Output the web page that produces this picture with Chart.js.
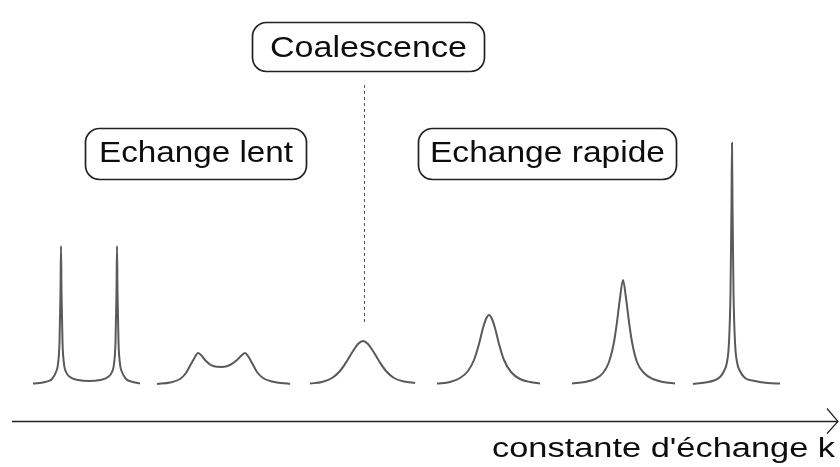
<!DOCTYPE html>
<html>
<head>
<meta charset="utf-8">
<script src="https://cdn.jsdelivr.net/npm/chart.js@4"></script>
<style>
  html, body { margin: 0; padding: 0; background: #fff; }
  .chart-box { width: 840px; height: 467px; }
</style>
</head>
<body>
<div class="chart-box"><canvas id="spectra"></canvas></div>
<script>
// Spectra: position along the axis (x) and signal intensity (y, 0 = baseline)
const slowX = [33, 45, 52, 56, 58, 59.5, 60.5, 61, 61.5, 62.5, 64, 66, 70, 78, 89, 100, 108, 112, 114, 115.5, 116.5, 117, 117.5, 118.5, 120, 122, 126, 133, 140];
const slowY = [0.5, 2, 5, 12, 20, 42, 92, 138, 92, 42, 20, 12, 7, 4, 3, 4, 7, 12, 20, 42, 92, 138, 92, 42, 20, 12, 5, 2, 0.5];

const broadX = [157, 170, 180, 186, 191, 195, 198, 201, 206, 213, 222, 230, 237, 242, 245, 248, 252, 257, 263, 272, 290];
const broadY = [0, 1.5, 5, 11, 20, 27, 31, 29, 23, 18, 17, 19, 24, 29, 31, 28, 21, 12, 6, 2.5, 0];

const coalX = [310, 322, 332, 340, 347, 353, 358, 363, 368, 373, 379, 386, 394, 404, 415];
const coalY = [0.5, 2, 6, 13, 23, 33, 40, 43, 40, 33, 23, 13, 6, 2.5, 1];

const fast1X = [437, 450, 460, 468, 474, 479, 483, 486, 489, 492, 495, 499, 504, 511, 520, 530, 540];
const fast1Y = [0.5, 2, 6, 13, 24, 40, 56, 65, 69, 65, 56, 40, 24, 12, 5, 2, 0.5];

const fast2X = [572, 585, 595, 603, 609, 614, 617, 620, 623, 626, 629, 632, 637, 644, 653, 663, 675];
const fast2Y = [0.5, 2, 5, 11, 22, 42, 62, 86, 104, 86, 62, 42, 22, 11, 5, 2, 0.5];

const fast3X = [693, 705, 714, 720, 724, 727, 729, 730.5, 731.5, 732, 732.5, 733.5, 735, 737, 740, 745, 755, 768, 780];
const fast3Y = [0, 1.5, 3.5, 7, 13, 22, 42, 92, 180, 241, 180, 92, 42, 22, 13, 6, 3, 1, 0.5];

const boxLabels = ["Coalescence", "Echange lent", "Echange rapide"];
const axisLabel = "constante d'échange k";

// where the annotations sit, in the same data units as the spectra
const boxes = [
  { left: 252, right: 485, top: 362, bottom: 312, textBase: 327, textWidth: 197 },
  { left: 85, right: 307, top: 256, bottom: 204, textBase: 222, textWidth: 194 },
  { left: 418, right: 677, top: 256, bottom: 204, textBase: 222, textWidth: 235 }
];
const coalLine = { x: 364, from: 299, to: 62 };
const axisArrow = { from: 12, to: 838, y: -37 };
const axisText = { left: 492, right: 835, base: -73 };

const FONT = '"Liberation Sans", Arial, sans-serif';

function toPoints(xs, ys) {
  return xs.map((x, i) => ({ x: x, y: ys[i] }));
}

// text in the picture is a bit stretched sideways, so squeeze it to the measured width
function stretchedText(ctx, text, cx, base, width, size) {
  ctx.font = size + 'px ' + FONT;
  const w = ctx.measureText(text).width;
  ctx.save();
  ctx.translate(cx, base);
  ctx.scale(width / w, 1);
  ctx.textAlign = 'center';
  ctx.textBaseline = 'alphabetic';
  ctx.fillStyle = '#0d0d0d';
  ctx.fillText(text, 0, 0);
  ctx.restore();
}

function roundBox(ctx, x0, y0, x1, y1, r) {
  ctx.beginPath();
  ctx.moveTo(x0 + r, y0);
  ctx.arcTo(x1, y0, x1, y1, r);
  ctx.arcTo(x1, y1, x0, y1, r);
  ctx.arcTo(x0, y1, x0, y0, r);
  ctx.arcTo(x0, y0, x1, y0, r);
  ctx.closePath();
  ctx.stroke();
}

const annotations = {
  id: 'annotations',
  afterDraw(chart) {
    const ctx = chart.ctx;
    const xs = chart.scales.x, ys = chart.scales.y;
    const px = v => xs.getPixelForValue(v);
    const py = v => ys.getPixelForValue(v);
    ctx.save();

    // dashed coalescence marker
    ctx.strokeStyle = '#555';
    ctx.lineWidth = 1;
    ctx.setLineDash([3, 3]);
    ctx.beginPath();
    ctx.moveTo(Math.round(px(coalLine.x)) + 0.5, py(coalLine.from));
    ctx.lineTo(Math.round(px(coalLine.x)) + 0.5, py(coalLine.to));
    ctx.stroke();
    ctx.setLineDash([]);

    // axis arrow
    const ay = Math.round(py(axisArrow.y)) + 0.5;
    ctx.strokeStyle = '#222';
    ctx.lineWidth = 1.6;
    ctx.beginPath();
    ctx.moveTo(px(axisArrow.from), ay);
    ctx.lineTo(px(axisArrow.to), ay);
    ctx.stroke();
    ctx.lineWidth = 1.2;
    ctx.beginPath();
    ctx.moveTo(px(axisArrow.to) - 11, ay - 13);
    ctx.lineTo(px(axisArrow.to), ay);
    ctx.lineTo(px(axisArrow.to) - 11, ay + 12);
    ctx.stroke();

    stretchedText(ctx, axisLabel, (px(axisText.left) + px(axisText.right)) / 2, py(axisText.base),
      px(axisText.right) - px(axisText.left), 27);

    // rounded label boxes
    boxes.forEach((b, i) => {
      ctx.strokeStyle = '#222';
      ctx.lineWidth = 1.7;
      roundBox(ctx, px(b.left) + 0.5, py(b.top) + 0.5, px(b.right) - 0.5, py(b.bottom) - 0.5, 14);
      stretchedText(ctx, boxLabels[i], (px(b.left) + px(b.right)) / 2, py(b.textBase), b.textWidth, 30);
    });
    ctx.restore();
  }
};

const lineStyle = {
  showLine: true,
  pointRadius: 0,
  borderColor: '#5a5a5a',
  borderWidth: 2,
  cubicInterpolationMode: 'monotone',
  fill: false
};

new Chart(document.getElementById('spectra'), {
  type: 'scatter',
  data: {
    datasets: [
      Object.assign({ label: 'lent', data: toPoints(slowX, slowY) }, lineStyle),
      Object.assign({ label: 'intermédiaire', data: toPoints(broadX, broadY) }, lineStyle),
      Object.assign({ label: 'coalescence', data: toPoints(coalX, coalY) }, lineStyle),
      Object.assign({ label: 'rapide 1', data: toPoints(fast1X, fast1Y) }, lineStyle),
      Object.assign({ label: 'rapide 2', data: toPoints(fast2X, fast2Y) }, lineStyle),
      Object.assign({ label: 'rapide 3', data: toPoints(fast3X, fast3Y) }, lineStyle)
    ]
  },
  options: {
    responsive: true,
    maintainAspectRatio: false,
    animation: false,
    layout: { padding: 0 },
    scales: {
      x: { type: 'linear', min: 0, max: 840, display: false },
      y: { type: 'linear', min: -83, max: 384, display: false }
    },
    plugins: { legend: { display: false }, tooltip: { enabled: false } }
  },
  plugins: [annotations]
});
</script>
</body>
</html>
